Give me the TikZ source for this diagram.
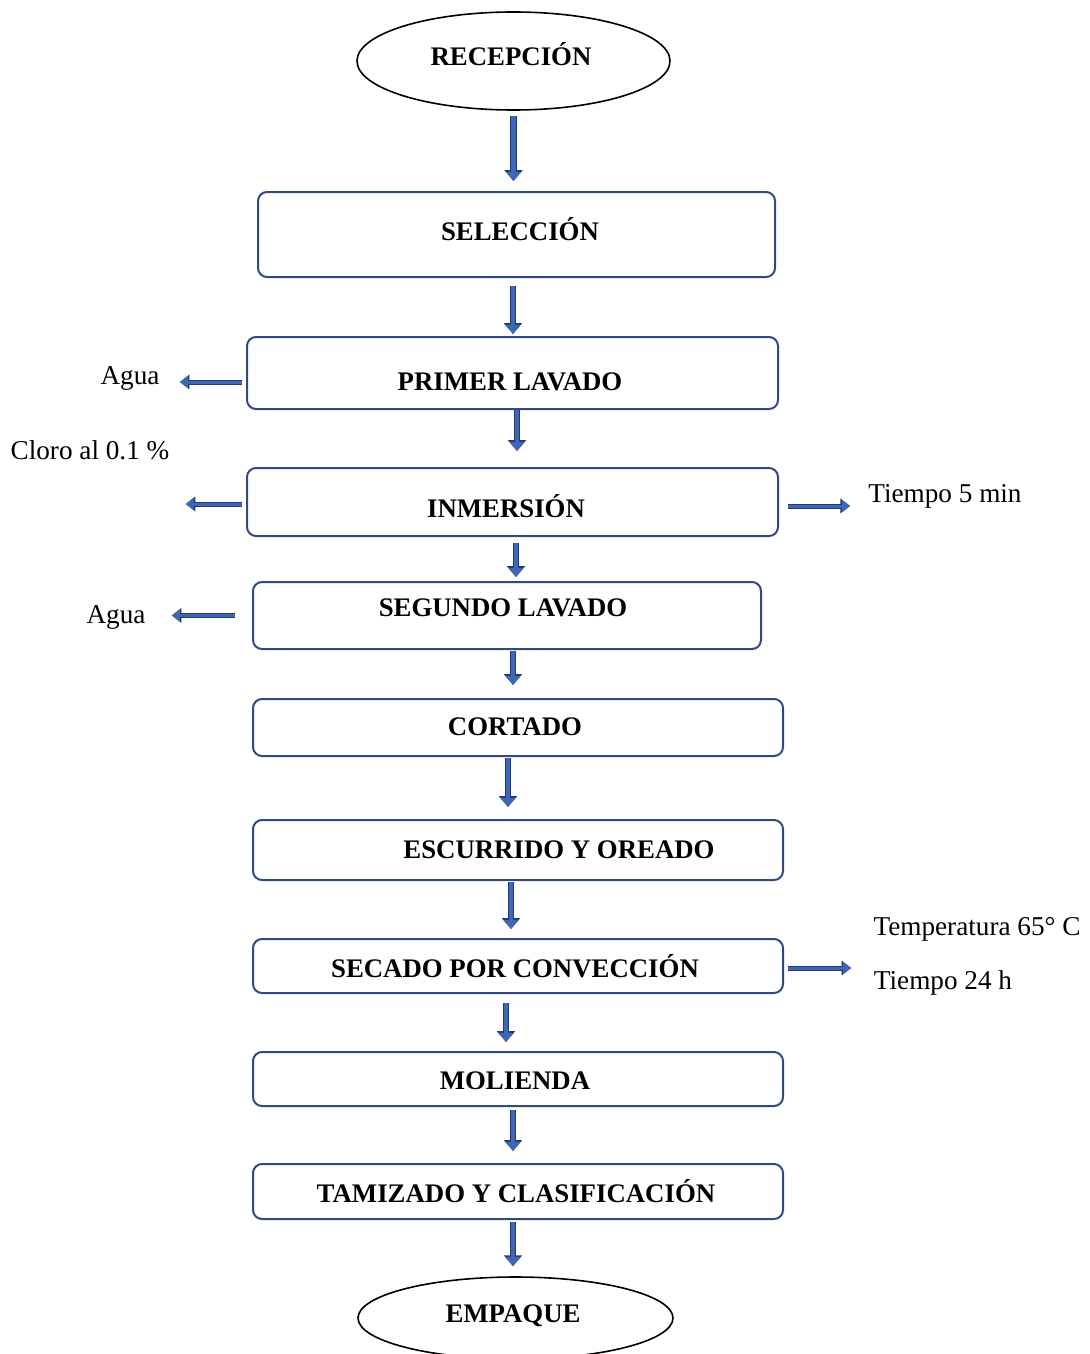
\documentclass[tikz,border=0pt]{standalone}
\usepackage{fontspec}
\setmainfont{Liberation Serif}
\usetikzlibrary{positioning}
\usetikzlibrary{shapes.geometric}
\usetikzlibrary{arrows.meta}
\usepackage{xcolor}
\definecolor{boxline}{RGB}{47,75,130}
\definecolor{arrowfill}{RGB}{62,103,182}
\definecolor{arrowedge}{RGB}{34,58,112}

\tikzset{
  stepbox/.style={draw=boxline, line width=1pt, rounded corners=4.5pt, inner sep=0pt},
  stepend/.style={draw=black, line width=0.8pt, ellipse, inner sep=0pt},
  steptext/.style={font=\fontsize{13.4}{16}\selectfont\bfseries, inner sep=0pt},
  sidetext/.style={font=\fontsize{13.6}{16}\selectfont, inner sep=0pt},
  flow/.style={arrowfill, line width=2.2pt, -{Triangle[length=4.6pt,width=7.4pt]},
    preaction={draw=arrowedge, line width=3.2pt, -{Triangle[length=5.4pt,width=8.8pt]}}},
  sideflow/.style={arrowfill, line width=1.5pt, -{Triangle[length=4pt,width=5.8pt]},
    preaction={draw=arrowedge, line width=2.5pt, -{Triangle[length=4.8pt,width=7.2pt]}}}
}

\begin{document}
\begin{tikzpicture}[x=0.5pt, y=-0.5pt]
    \useasboundingbox (0,0) rectangle (1090,1354);

    % start and end
    \node[stepend, minimum width=156.5pt, minimum height=49pt] (rec) at (513.5,61) {};
    \node[steptext] (rec-t) at (511,54) {RECEPCIÓN};
    \node[stepend, minimum width=157.5pt, minimum height=41pt] (emp) at (515.5,1318) {};
    \node[steptext] (emp-t) at (513,1316) {EMPAQUE};

    % process steps
    \foreach \nm/\xa/\ya/\xb/\yb/\tx/\ty/\txt in {
        sel/258/192/775/277/520/229/SELECCIÓN,
        prim/247/337/778/409/510/382/PRIMER LAVADO,
        inm/247/468/778/536/506/506/INMERSIÓN,
        seg/253/582/761/649/503/608/SEGUNDO LAVADO,
        cort/253/699/783/756/515/727/CORTADO,
        esc/253/820/783/880/559/850/ESCURRIDO Y OREADO,
        sec/253/939/783/993/515/966/SECADO POR CONVECCIÓN,
        mol/253/1052/783/1106/515/1081/MOLIENDA,
        tam/253/1164/783/1219/516/1191/TAMIZADO Y CLASIFICACIÓN} {
      \node[stepbox, minimum width={(\xb-\xa)*0.5pt}, minimum height={(\yb-\ya)*0.5pt}]
        (\nm) at ({(\xa+\xb)/2},{(\ya+\yb)/2}) {};
      \node[steptext] (\nm-t) at (\tx,\ty) {\txt};
    }

    % main flow
    \foreach \a/\b/\dx/\sa/\sb in {rec/sel/0/5/10, sel/prim/-3.5/8/2, prim/inm/4.5/0/16,
        inm/seg/3.5/6/4, seg/cort/6/1/13, cort/esc/-10/1/12, esc/sec/-7/1/9,
        sec/mol/-12/9/9, mol/tam/-5/3/12, tam/emp/-5/2/10} {
      \draw[flow, shorten <={\sa*0.5pt}, shorten >={\sb*0.5pt}]
        ([xshift={\dx*0.5pt}]\a.south) -- ([xshift={\dx*0.5pt}]\a.south |- \b.north);
    }

    % side notes
    \node[sidetext] (agua1) at (130,378) {Agua};
    \node[sidetext] (cloro) at (90,450) {Cloro al 0.1 \%};
    \node[sidetext] (t5) at (945,496) {Tiempo 5 min};
    \node[sidetext] (agua2) at (116,617) {Agua};
    \node[sidetext] (temp) at (977,929) {Temperatura 65° C};
    \node[sidetext] (t24) at (943,983) {Tiempo 24 h};

    \draw[sideflow, shorten <=2pt, shorten >=10pt]
      ([yshift=-4.5pt]prim.west) -- ([yshift=-4.5pt]prim.west -| agua1.east);
    \draw[sideflow, shorten <=2pt, shorten >=8pt]
      ([yshift=-1pt]inm.west) -- ([yshift=-1pt]inm.west -| cloro.east);
    \draw[sideflow, shorten <=4.5pt, shorten >=9pt]
      ([yshift=-2pt]inm.east) -- ([yshift=-2pt]inm.east -| t5.west);
    \draw[sideflow, shorten <=8.5pt, shorten >=13pt]
      (seg.west) -- (seg.west -| agua2.east);
    \draw[sideflow, shorten <=2pt, shorten >=11pt]
      ([yshift=-1pt]sec.east) -- ([yshift=-1pt]sec.east -| temp.west);
\end{tikzpicture}
\end{document}
